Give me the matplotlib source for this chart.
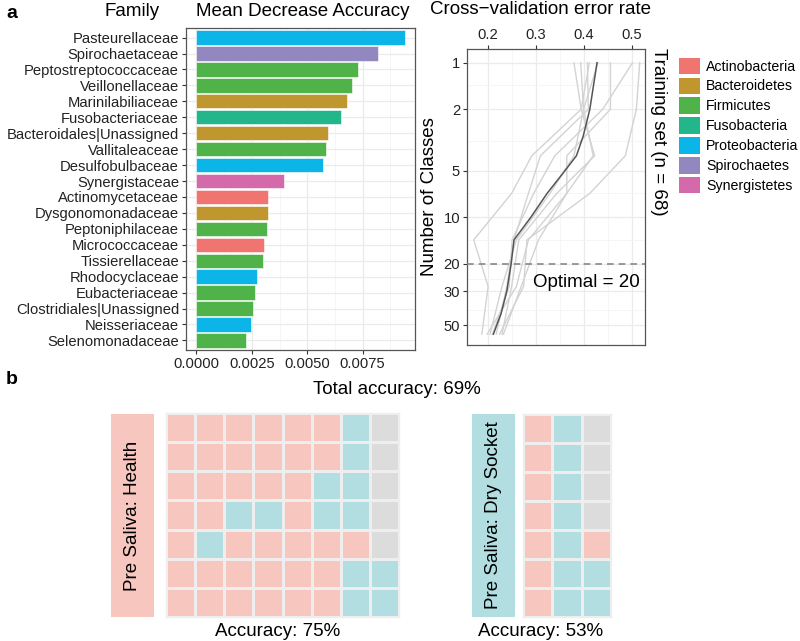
import matplotlib
matplotlib.use('Agg')
import matplotlib.pyplot as plt
from matplotlib.patches import Patch
from matplotlib.colors import ListedColormap
import numpy as np

plt.rcParams['font.family'] = ['Liberation Sans', 'DejaVu Sans']

# ---------------- data ----------------
families = ["Pasteurellaceae", "Spirochaetaceae", "Peptostreptococcaceae", "Veillonellaceae",
            "Marinilabiliaceae", "Fusobacteriaceae", "Bacteroidales|Unassigned", "Vallitaleaceae",
            "Desulfobulbaceae", "Synergistaceae", "Actinomycetaceae", "Dysgonomonadaceae",
            "Peptoniphilaceae", "Micrococcaceae", "Tissierellaceae", "Rhodocyclaceae",
            "Eubacteriaceae", "Clostridiales|Unassigned", "Neisseriaceae", "Selenomonadaceae"]
mda = [0.00939, 0.00821, 0.00730, 0.00702, 0.00678, 0.00654, 0.00594, 0.00583, 0.00573,
       0.00395, 0.00324, 0.00325, 0.00317, 0.00306, 0.00302, 0.00274, 0.00265, 0.00255,
       0.00246, 0.00222]
phylum = ["Proteobacteria", "Spirochaetes", "Firmicutes", "Firmicutes", "Bacteroidetes",
          "Fusobacteria", "Bacteroidetes", "Firmicutes", "Proteobacteria", "Synergistetes",
          "Actinobacteria", "Bacteroidetes", "Firmicutes", "Actinobacteria", "Firmicutes",
          "Proteobacteria", "Firmicutes", "Firmicutes", "Proteobacteria", "Firmicutes"]
phyla = ["Actinobacteria", "Bacteroidetes", "Firmicutes", "Fusobacteria",
         "Proteobacteria", "Spirochaetes", "Synergistetes"]
phyla_colors = ["#F07470", "#C0962E", "#4FB349", "#22B68A", "#0BB5E8", "#9387C0", "#D56AAA"]

cv_nvars = [1, 2, 4, 7, 14, 28, 57]
cv_runs = [
    [0.380, 0.395, 0.292, 0.250, 0.171, 0.201, 0.188],
    [0.394, 0.400, 0.420, 0.365, 0.285, 0.260, 0.199],
    [0.408, 0.410, 0.310, 0.285, 0.255, 0.240, 0.218],
    [0.412, 0.395, 0.423, 0.344, 0.265, 0.250, 0.230],
    [0.456, 0.456, 0.365, 0.365, 0.306, 0.270, 0.233],
    [0.502, 0.440, 0.340, 0.296, 0.251, 0.245, 0.210],
    [0.517, 0.510, 0.487, 0.413, 0.282, 0.275, 0.225],
    [0.430, 0.400, 0.380, 0.330, 0.260, 0.230, 0.205],
]
cv_mean_n = [1, 2, 3, 4, 5, 7, 10, 14, 20, 30, 42, 57]
cv_mean_err = [0.428, 0.413, 0.399, 0.385, 0.361, 0.324, 0.290, 0.255, 0.249, 0.240, 0.228, 0.212]
optimal_n = 20

health_rows = ["PPPPPPBG", "PPPPPPBG", "PPPPPBBG", "PPBBPBBG",
               "PBPPPPPG", "PPPPPPBB", "PPPPPPBB"]
dry_rows = ["PBG", "PBG", "PBG", "PBG", "PBP", "PBB", "PBB"]
waffle_codes = {"P": 0, "B": 1, "G": 2}
waffle_colors = ["#F6C6BF", "#B2DEE1", "#DCDCDC"]
total_acc = 69
health_acc = 75
dry_acc = 53

# ---------------- figure ----------------
W, H = 800, 641
fig = plt.figure(figsize=(W / 100, H / 100), dpi=100)


def box(x0, y0, x1, y1):
    return [x0 / W, 1 - y1 / H, (x1 - x0) / W, (y1 - y0) / H]


def fx(x):
    return x / W


def fy(y):
    return 1 - y / H


border = "#555555"
gridc = "#EBEBEB"
tickc = "#222222"
tfs = 13.5

# ---- bar chart ----
ax = fig.add_axes(box(186, 28, 415, 350))
ypos = np.arange(len(families))
cmap = dict(zip(phyla, phyla_colors))
ax.barh(ypos, mda, height=0.9, color=[cmap[p] for p in phylum],
        edgecolor="#FFFFFF", linewidth=0.4, zorder=3)
ax.set_ylim(len(families) - 0.4, -0.6)
ax.set_xlim(-0.00047, 0.00986)
ax.set_yticks(ypos)
ax.set_yticklabels(families, fontsize=10.6, color=tickc)
ax.set_xticks([0, 0.0025, 0.005, 0.0075])
ax.set_xticklabels(["0.0000", "0.0025", "0.0050", "0.0075"], fontsize=10.6, color=tickc)
ax.set_xticks([0.00125, 0.00375, 0.00625, 0.00875], minor=True)
ax.grid(True, which="major", color=gridc, lw=0.9, zorder=0)
ax.grid(True, which="minor", axis="x", color="#F4F4F4", lw=0.6, zorder=0)
ax.tick_params(which="minor", length=0)
ax.tick_params(which="major", length=3, color="#333333", pad=2)
for s in ax.spines.values():
    s.set_color(border)
    s.set_linewidth(0.9)
ax.set_axisbelow(True)

fig.text(fx(132), fy(12), "Family", ha="center", va="center", fontsize=tfs)
fig.text(fx(303), fy(12), "Mean Decrease Accuracy", ha="center", va="center", fontsize=tfs)
fig.text(fx(12), fy(13), "a", ha="center", va="center", fontsize=14, fontweight="bold")
fig.text(fx(12), fy(379), "b", ha="center", va="center", fontsize=14, fontweight="bold")

# ---- legend ----
handles = [Patch(facecolor=c, edgecolor="none") for c in phyla_colors]
fig.legend(handles, phyla, loc="upper left", bbox_to_anchor=(fx(673), fy(52)),
           frameon=False, fontsize=10.2, handlelength=1.5, handleheight=1.4,
           labelspacing=0.25, handletextpad=0.45, borderaxespad=0)

# ---- cross-validation ----
cx = fig.add_axes(box(467, 49, 645, 345))
for run in cv_runs:
    cx.plot(run, cv_nvars, color="#D3D3D3", lw=1.0, zorder=2)
cx.plot(cv_mean_err, cv_mean_n, color="#555555", lw=1.1, zorder=3)
cx.axhline(optimal_n, color="#888888", lw=1.2, ls=(0, (4, 3)), zorder=4)
cx.set_yscale("log")
cx.set_ylim(67, 0.815)
cx.set_xlim(0.157, 0.528)
yt = [1, 2, 5, 10, 20, 30, 50]
cx.set_yticks(yt)
cx.set_yticklabels([str(v) for v in yt], fontsize=10.6, color=tickc)
cx.yaxis.set_minor_locator(matplotlib.ticker.FixedLocator([1.4, 3.2, 7, 14, 25, 40]))
cx.yaxis.set_minor_formatter(matplotlib.ticker.NullFormatter())
cx.set_xticks([0.2, 0.3, 0.4, 0.5])
cx.set_xticklabels(["0.2", "0.3", "0.4", "0.5"], fontsize=10.6, color=tickc)
cx.set_xticks([0.25, 0.35, 0.45], minor=True)
cx.xaxis.tick_top()
cx.grid(True, which="major", color=gridc, lw=0.9, zorder=0)
cx.grid(True, which="minor", color="#F4F4F4", lw=0.6, zorder=0)
cx.tick_params(which="minor", length=0)
cx.tick_params(which="major", length=3, color="#333333", pad=2)
for s in cx.spines.values():
    s.set_color(border)
    s.set_linewidth(0.9)
cx.set_ylabel("Number of Classes", fontsize=tfs, labelpad=4)
cx.text(0.5165, 26.6, "Optimal = " + str(optimal_n), ha="right", va="center", fontsize=tfs)
fig.text(fx(540), fy(10), "Cross\u2212validation error rate", ha="center", va="center", fontsize=tfs)
fig.text(fx(658), fy(48), "Training set (n = 68)", ha="center", va="top",
         rotation=-90, fontsize=tfs)

# ---- waffles ----
wcmap = ListedColormap(waffle_colors)


def waffle(rect, rows):
    wa = fig.add_axes(rect)
    codes = np.array([[waffle_codes[c] for c in r] for r in rows])
    wa.pcolormesh(codes, cmap=wcmap, vmin=-0.5, vmax=2.5,
                  edgecolors="#EEEEEE", linewidth=0.9)
    wa.set_xlim(0, codes.shape[1])
    wa.set_ylim(codes.shape[0], 0)
    wa.set_xticks([])
    wa.set_yticks([])
    for s in wa.spines.values():
        s.set_color("#EEEEEE")
        s.set_linewidth(1.0)
    return wa


def strip(rect, color, label):
    sa = fig.add_axes(rect)
    sa.set_facecolor(color)
    sa.set_xticks([])
    sa.set_yticks([])
    for s in sa.spines.values():
        s.set_visible(False)
    sa.text(0.5, 0.5, label, rotation=90, ha="center", va="center",
            fontsize=tfs, transform=sa.transAxes)


strip(box(111, 414, 154, 617), waffle_colors[0], "Pre Saliva: Health")
waffle(box(166, 413, 399, 617), health_rows)
strip(box(472, 414, 515, 617), waffle_colors[1], "Pre Saliva: Dry Socket")
waffle(box(523, 414, 611, 617), dry_rows)

fig.text(fx(397), fy(390), "Total accuracy: %d%%" % total_acc, ha="center", va="center", fontsize=tfs)
fig.text(fx(278), fy(631), "Accuracy: %d%%" % health_acc, ha="center", va="center", fontsize=tfs)
fig.text(fx(541), fy(631), "Accuracy: %d%%" % dry_acc, ha="center", va="center", fontsize=tfs)

fig.savefig("out.png", dpi=100)
